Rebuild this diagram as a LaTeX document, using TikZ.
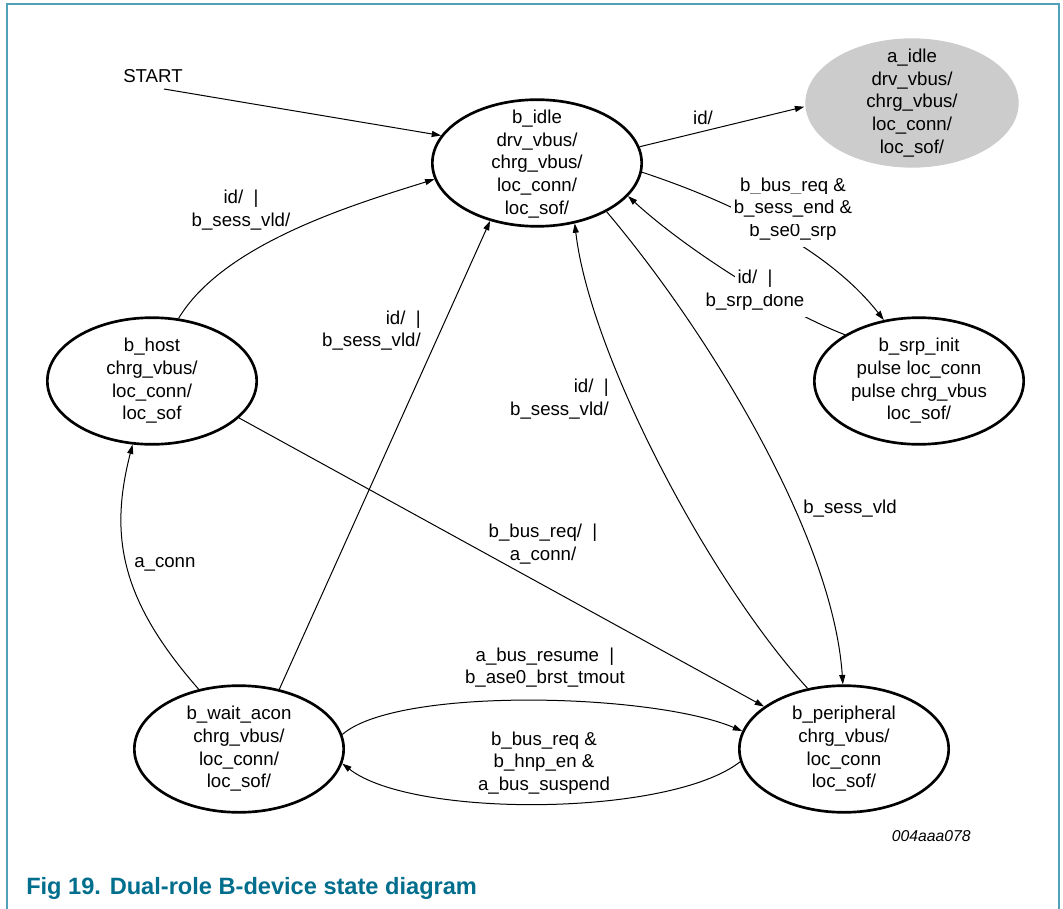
\documentclass[tikz,border=0pt]{standalone}
\usepackage{fontspec}
\setmainfont{Liberation Sans}
\usetikzlibrary{arrows.meta,shapes.geometric}
\definecolor{frameblue}{RGB}{80,160,185}
\definecolor{captionblue}{RGB}{0,110,140}
\definecolor{stategray}{RGB}{204,204,204}
\tikzset{
  stateE/.style={ellipse, draw, line width=2pt, minimum width=157pt, minimum height=95pt, inner sep=0pt},
  stxt/.style={align=center, font=\fontsize{14}{17}\selectfont, inner sep=0pt},
  lbl/.style={font=\fontsize{14}{17}\selectfont, inner sep=0pt},
  mask/.style={lbl, fill=white, inner xsep=2pt, inner ysep=4.5pt},
  conn/.style={line width=0.75pt, -{Triangle[length=7pt,width=4.5pt]}},
  plain/.style={line width=0.75pt}
}
\begin{document}
\begin{tikzpicture}[x=0.75pt,y=-0.75pt]
\fill[white] (0,0) rectangle (1063,909);
\useasboundingbox (0,0) rectangle (1063,909);
\draw[frameblue, line width=1.5pt] (7,909) -- (7,4) -- (1059,4) -- (1059,909);

% states
\node[stateE] (b_idle) at (537,163) {};
\node[stxt] (t_idle) at (537,164) {b\_idle\\drv\_vbus/\\chrg\_vbus/\\loc\_conn/\\loc\_sof/};
\node[stateE, draw=none, fill=stategray, minimum width=160pt, minimum height=97pt] (a_idle) at (912,103) {};
\node[stxt] (t_aidle) at (a_idle) {a\_idle\\drv\_vbus/\\chrg\_vbus/\\loc\_conn/\\loc\_sof/};
\node[stateE] (b_srp_init) at (919,381) {};
\node[stxt] (t_srp) at (b_srp_init) {b\_srp\_init\\pulse loc\_conn\\pulse chrg\_vbus\\loc\_sof/};
\node[stateE] (b_host) at (152,381) {};
\node[stxt] (t_host) at (b_host) {b\_host\\chrg\_vbus/\\loc\_conn/\\loc\_sof};
\node[stateE] (b_wait_acon) at (239,749) {};
\node[stxt] (t_wait) at (b_wait_acon) {b\_wait\_acon\\chrg\_vbus/\\loc\_conn/\\loc\_sof/};
\node[stateE] (b_peripheral) at (844,749) {};
\node[stxt] (t_periph) at (b_peripheral) {b\_peripheral\\chrg\_vbus/\\loc\_conn\\loc\_sof/};

% start
\node[lbl] (START) at (153,76) {START};
\coordinate (startpt) at (164,89);
\draw[conn] (startpt) -- (b_idle.164);

% b_idle -> a_idle
\draw[conn] (b_idle.9) -- (a_idle.182);
\node[lbl] (l_id) at (703,118) {id/};

% b_idle -> b_srp_init
\draw[conn] (b_idle.-5) .. controls +(97,32) and +(-53,-68) .. (b_srp_init.120);
\node[mask] (l_srp1) at (793,187) {b\_bus\_req \&};
\node[mask] (l_srp3) at (793,232) {b\_se0\_srp};
\node[mask] (l_srp2) at (793,209) {b\_sess\_end \&};

% b_srp_init -> b_idle
\draw[conn] (b_srp_init.148) .. controls +(-60,-23) and +(60,55) .. (b_idle.-20);
\node[mask] (l_done2) at (755,302) {b\_srp\_done};
\node[mask] (l_done1) at (755,279) {id/\ \ |};

% b_host -> b_idle
\draw[conn] (b_host.67) .. controls +(45,-75) and +(-80,25) .. (b_idle.189);
\node[lbl, align=center] (l_host) at (241,210) {id/\ \ |\\b\_sess\_vld/};

% b_wait_acon -> b_host
\draw[conn] (b_wait_acon.124) .. controls +(-77,-88) and +(-24,93) .. (b_host.-107);
\node[lbl, anchor=west] (l_aconn) at (134,564) {a\_conn};

% b_wait_acon -> b_idle
\draw[conn] (b_wait_acon.56) -- (b_idle.-129);
\node[lbl, align=right, anchor=east] (l_mid) at (421,330.5) {id/\ \ |\\b\_sess\_vld/};

% b_host -> b_peripheral
\draw[conn] (b_host.-23) -- (b_peripheral.152);
\node[lbl, align=center] (l_busreq) at (543,544) {b\_bus\_req/\ \ |\\a\_conn/};

% b_idle -> b_peripheral
\draw[conn] (b_idle.-35) .. controls +(100,118) and +(-10,-150) .. (b_peripheral.91);
\node[lbl] (l_vld) at (850,509) {b\_sess\_vld};

% b_peripheral -> b_idle
\draw[conn] (b_peripheral.121) .. controls +(-100,-110) and +(15,130) .. (b_idle.-58);
\node[lbl, align=right, anchor=east] (l_right) at (609,399) {id/\ \ |\\b\_sess\_vld/};

% b_wait_acon -> b_peripheral
\draw[conn] (b_wait_acon.8) .. controls +(55,-48) and +(-90,-38) .. (b_peripheral.170);
\node[lbl, align=center] (l_resume) at (545,667.5) {a\_bus\_resume\ \ |\\b\_ase0\_brst\_tmout};

% b_peripheral -> b_wait_acon
\draw[conn] (b_peripheral.187) .. controls +(-70,55) and +(70,55) .. (b_wait_acon.-8);
\node[lbl, align=center] (l_suspend) at (544,763) {b\_bus\_req \&\\b\_hnp\_en \&\\a\_bus\_suspend};

% figure id and caption
\node[font=\fontsize{11.8}{14}\selectfont\itshape, inner sep=0pt, anchor=east] (figid) at (971,836) {004aaa078};
\node[font=\fontsize{17.7}{21}\selectfont\bfseries, text=captionblue, inner sep=0pt, anchor=west] (caption) at (26,888) {Fig 19. Dual-role B-device state diagram};
\end{tikzpicture}
\end{document}
